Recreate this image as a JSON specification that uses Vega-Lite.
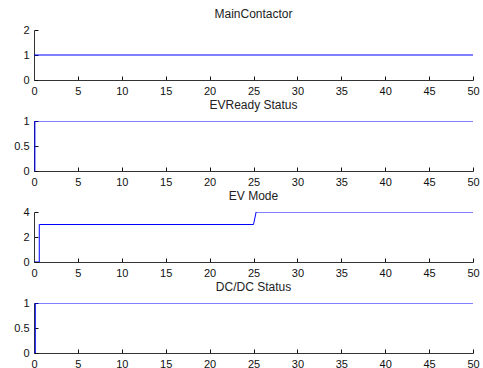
{
  "$schema": "https://vega.github.io/schema/vega-lite/v6.json",
  "padding": {"left": 13, "top": 8, "right": 2, "bottom": 2},
  "spacing": 3,
  "background": "white",
  "datasets": {
    "sig": [
      {"panel": "MainContactor", "t": 0, "v": 1},
      {"panel": "MainContactor", "t": 50, "v": 1},
      {"panel": "EVReady Status", "t": 0, "v": 0},
      {"panel": "EVReady Status", "t": 0.1, "v": 0},
      {"panel": "EVReady Status", "t": 0.1, "v": 1},
      {"panel": "EVReady Status", "t": 50, "v": 1},
      {"panel": "EV Mode", "t": 0, "v": 0},
      {"panel": "EV Mode", "t": 0.6, "v": 0},
      {"panel": "EV Mode", "t": 0.6, "v": 3},
      {"panel": "EV Mode", "t": 25.0, "v": 3},
      {"panel": "EV Mode", "t": 25.3, "v": 4},
      {"panel": "EV Mode", "t": 50, "v": 4},
      {"panel": "DC/DC Status", "t": 0, "v": 0},
      {"panel": "DC/DC Status", "t": 0.15, "v": 0},
      {"panel": "DC/DC Status", "t": 0.15, "v": 1},
      {"panel": "DC/DC Status", "t": 50, "v": 1}
    ]
  },
  "vconcat": [
    {
      "title": "MainContactor",
      "width": 439, "height": 50,
      "data": {"name": "sig"},
      "transform": [{"filter": "datum.panel === 'MainContactor'"}],
      "mark": {"type": "line", "color": "#0000ff", "strokeWidth": 1, "clip": true},
      "encoding": {
        "x": {"field": "t", "type": "quantitative", "scale": {"domain": [0, 50], "nice": false}, "axis": {"values": [0,5,10,15,20,25,30,35,40,45,50]}},
        "y": {"field": "v", "type": "quantitative", "scale": {"domain": [0, 2], "nice": false}, "axis": {"values": [0, 1, 2], "format": "~g"}}
      }
    },
    {
      "title": "EVReady Status",
      "width": 439, "height": 50,
      "data": {"name": "sig"},
      "transform": [{"filter": "datum.panel === 'EVReady Status'"}],
      "mark": {"type": "line", "color": "#0000ff", "strokeWidth": 1, "clip": true},
      "encoding": {
        "x": {"field": "t", "type": "quantitative", "scale": {"domain": [0, 50], "nice": false}, "axis": {"values": [0,5,10,15,20,25,30,35,40,45,50]}},
        "y": {"field": "v", "type": "quantitative", "scale": {"domain": [0, 1], "nice": false}, "axis": {"values": [0, 0.5, 1], "format": "~g"}}
      }
    },
    {
      "title": "EV Mode",
      "width": 439, "height": 50,
      "data": {"name": "sig"},
      "transform": [{"filter": "datum.panel === 'EV Mode'"}],
      "mark": {"type": "line", "color": "#0000ff", "strokeWidth": 1, "clip": true},
      "encoding": {
        "x": {"field": "t", "type": "quantitative", "scale": {"domain": [0, 50], "nice": false}, "axis": {"values": [0,5,10,15,20,25,30,35,40,45,50]}},
        "y": {"field": "v", "type": "quantitative", "scale": {"domain": [0, 4], "nice": false}, "axis": {"values": [0, 2, 4], "format": "~g"}}
      }
    },
    {
      "title": "DC/DC Status",
      "width": 439, "height": 50,
      "data": {"name": "sig"},
      "transform": [{"filter": "datum.panel === 'DC/DC Status'"}],
      "mark": {"type": "line", "color": "#0000ff", "strokeWidth": 1, "clip": true},
      "encoding": {
        "x": {"field": "t", "type": "quantitative", "scale": {"domain": [0, 50], "nice": false}, "axis": {"values": [0,5,10,15,20,25,30,35,40,45,50]}},
        "y": {"field": "v", "type": "quantitative", "scale": {"domain": [0, 1], "nice": false}, "axis": {"values": [0, 0.5, 1], "format": "~g"}}
      }
    }
  ],
  "config": {
    "view": {"stroke": null},
    "font": "Liberation Sans",
    "title": {"font": "Liberation Sans", "fontSize": 12, "fontWeight": "normal", "color": "#222222", "offset": 3, "anchor": "middle"},
    "axis": {
      "title": null,
      "grid": false,
      "domainColor": "#333333",
      "tickColor": "#111111",
      "tickSize": -4,
      "labelPadding": 9,
      "labelFont": "Liberation Sans",
      "labelFontSize": 11,
      "labelColor": "#111111",
      "labelFlush": false,
      "labelOverlap": false
    }
  }
}
